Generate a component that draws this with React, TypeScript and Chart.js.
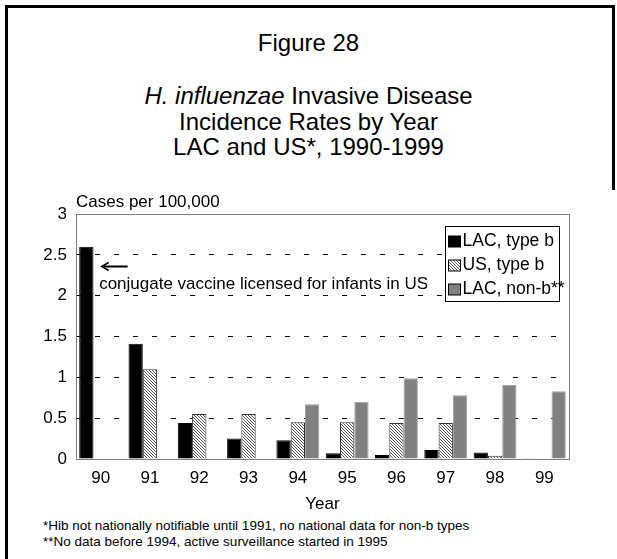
import React, { useEffect, useRef } from "react";
import { Chart, registerables } from "chart.js";

Chart.register(...registerables);

const years = ["90", "91", "92", "93", "94", "95", "96", "97", "98", "99"];
const lacTypeB = [2.6, 1.41, 0.44, 0.25, 0.23, 0.07, 0.05, 0.11, 0.08, 0.01];
const usTypeB = [null, 1.1, 0.55, 0.55, 0.45, 0.45, 0.44, 0.44, 0.04, null];
const lacNonB = [null, null, null, null, 0.67, 0.7, 0.99, 0.78, 0.91, 0.83];
const seriesLabels = ["LAC, type b", "US, type b", "LAC, non-b**"];
const yTicks = [0, 0.5, 1, 1.5, 2, 2.5, 3];
const yAxisTitle = "Cases per 100,000";
const xAxisTitle = "Year";
const annotationText = "conjugate vaccine licensed for infants in US";
const annotationArrowValue = 2.36;
const annotationTextValue = 2.08;

const FONT = "Arial, 'Liberation Sans', sans-serif";
const FS = 17;

function makeHatch(): CanvasPattern | string {
  const c = document.createElement("canvas");
  c.width = 3;
  c.height = 3;
  const g = c.getContext("2d");
  if (!g) return "#bbb";
  g.fillStyle = "#ffffff";
  g.fillRect(0, 0, 3, 3);
  g.fillStyle = "#555555";
  for (let i = 0; i < 3; i++) g.fillRect(i, i, 1, 1);
  const p = g.createPattern(c, "repeat");
  return p || "#bbb";
}

const extrasPlugin = {
  id: "extras",
  beforeDatasetsDraw(chart: any) {
    const { ctx, chartArea } = chart;
    ctx.save();
    ctx.strokeStyle = "#808080";
    ctx.lineWidth = 1;
    ctx.strokeRect(
      Math.round(chartArea.left) + 0.5,
      Math.round(chartArea.top) + 0.5,
      Math.round(chartArea.right - chartArea.left),
      Math.round(chartArea.bottom - chartArea.top)
    );
    ctx.restore();
  },
  afterDraw(chart: any) {
    const { ctx, chartArea, scales } = chart;
    const x = scales.x;
    const y = scales.y;
    ctx.save();
    ctx.fillStyle = "#000";
    ctx.font = `${FS}px ${FONT}`;
    ctx.textBaseline = "middle";
    ctx.textAlign = "left";
    ctx.fillText(yAxisTitle, chartArea.left, chartArea.top - 12);

    const cx = x.getPixelForValue(0);
    const ay = Math.round(y.getPixelForValue(annotationArrowValue)) + 0.5;
    const tipX = cx + 1;
    const tailX = cx + 27;
    ctx.strokeStyle = "#000";
    ctx.lineWidth = 2;
    ctx.beginPath();
    ctx.moveTo(tailX, ay);
    ctx.lineTo(tipX + 2, ay);
    ctx.stroke();
    ctx.lineWidth = 1.5;
    ctx.beginPath();
    ctx.moveTo(tipX + 7, ay - 4);
    ctx.lineTo(tipX, ay);
    ctx.lineTo(tipX + 7, ay + 4);
    ctx.stroke();
    ctx.textBaseline = "alphabetic";
    ctx.fillText(annotationText, cx - 1.5, y.getPixelForValue(annotationTextValue));

    const boxW = 114;
    const boxH = 75;
    const bx = Math.round(chartArea.right - 10 - boxW) + 0.5;
    const by = Math.round(chartArea.top + 12) + 0.5;
    ctx.fillStyle = "#fff";
    ctx.fillRect(bx, by, boxW, boxH);
    ctx.strokeStyle = "#000";
    ctx.lineWidth = 1;
    ctx.strokeRect(bx, by, boxW, boxH);
    ctx.font = `17.5px ${FONT}`;
    chart.data.datasets.forEach((ds: any, i: number) => {
      const ry = by + 14 + i * 24;
      ctx.fillStyle = ds.backgroundColor;
      ctx.fillRect(bx + 3, Math.round(ry - 5), 12, 11);
      ctx.strokeStyle = "#000";
      ctx.strokeRect(bx + 3, Math.round(ry - 5), 12, 11);
      ctx.fillStyle = "#000";
      ctx.textBaseline = "middle";
      ctx.fillText(ds.label, bx + 17, ry + 1);
    });
    ctx.restore();
  },
};

function ChartView() {
  const ref = useRef<HTMLCanvasElement | null>(null);
  useEffect(() => {
    if (!ref.current) return;
    const hatch = makeHatch();
    const chart = new Chart(ref.current, {
      type: "bar",
      data: {
        labels: years,
        datasets: [
          {
            label: seriesLabels[0],
            data: lacTypeB,
            backgroundColor: "#000000",
            borderColor: "#000000",
            borderWidth: 1,
          },
          {
            label: seriesLabels[1],
            data: usTypeB as any,
            backgroundColor: hatch as any,
            borderColor: "#333333",
            borderWidth: 1,
          },
          {
            label: seriesLabels[2],
            data: lacNonB as any,
            backgroundColor: "#808080",
            borderColor: "#a0a0a0",
            borderWidth: 1,
          },
        ],
      },
      options: {
        animation: false,
        responsive: false,
        maintainAspectRatio: false,
        events: [],
        layout: { padding: { left: 0, right: 48, top: 29, bottom: 0 } },
        datasets: {
          bar: { categoryPercentage: 0.87, barPercentage: 1.0 },
        },
        plugins: {
          legend: { display: false },
          title: { display: false },
          tooltip: { enabled: false },
        },
        scales: {
          x: {
            grid: { display: false, drawTicks: false },
            border: { display: false },
            ticks: {
              color: "#000",
              padding: 9,
              font: { family: FONT, size: FS },
              maxRotation: 0,
            },
            title: {
              display: true,
              text: xAxisTitle,
              color: "#000",
              font: { family: FONT, size: FS },
              padding: { top: 0, bottom: 0 },
            },
            afterFit: (s: any) => {
              s.height = 56;
            },
          },
          y: {
            min: 0,
            max: 3,
            afterBuildTicks: (s: any) => {
              s.ticks = yTicks.map((v) => ({ value: v }));
            },
            grid: {
              drawTicks: false,
              color: (c: any) =>
                c.tick && (c.tick.value === 0 || c.tick.value === 3) ? "rgba(0,0,0,0)" : "#000",
              lineWidth: 1,
            },
            border: { display: false, dash: [5, 14] },
            ticks: {
              color: "#000",
              padding: 9,
              font: { family: FONT, size: FS },
              callback: (v: any) => String(v),
            },
            afterFit: (s: any) => {
              s.width = 76;
            },
          },
        },
      },
      plugins: [extrasPlugin],
    });
    return () => chart.destroy();
  }, []);
  return (
    <canvas
      ref={ref}
      width={617}
      height={330}
      style={{ position: "absolute", left: 0, top: 185, width: 617, height: 330 }}
    />
  );
}

export default function App() {
  const text: React.CSSProperties = {
    position: "absolute",
    left: 0,
    width: 617,
    textAlign: "center",
    fontFamily: FONT,
    color: "#000",
    whiteSpace: "nowrap",
  };
  return (
    <div
      style={{
        position: "fixed",
        left: 0,
        top: 0,
        width: 617,
        height: 559,
        background: "#fff",
        overflow: "hidden",
      }}
    >
      <div style={{ position: "absolute", left: 5, top: 5, width: 3, height: 554, background: "#000" }} />
      <div style={{ position: "absolute", left: 5, top: 5, width: 610, height: 3, background: "#000" }} />
      <div style={{ position: "absolute", left: 612, top: 5, width: 3, height: 185, background: "#000" }} />
      <div style={{ ...text, top: 29, fontSize: 24, lineHeight: "28px" }}>Figure 28</div>
      <div style={{ ...text, top: 83, fontSize: 24, lineHeight: "25.5px" }}>
        <span style={{ fontStyle: "italic" }}>H. influenzae</span> Invasive Disease
        <br />
        Incidence Rates by Year
        <br />
        LAC and US*, 1990-1999
      </div>
      <ChartView />
      <div
        style={{
          position: "absolute",
          left: 43,
          top: 518,
          fontFamily: FONT,
          fontSize: 13.5,
          lineHeight: "15.5px",
          color: "#000",
          whiteSpace: "nowrap",
        }}
      >
        *Hib not nationally notifiable until 1991, no national data for non-b types
        <br />
        **No data before 1994, active surveillance started in 1995
      </div>
    </div>
  );
}
